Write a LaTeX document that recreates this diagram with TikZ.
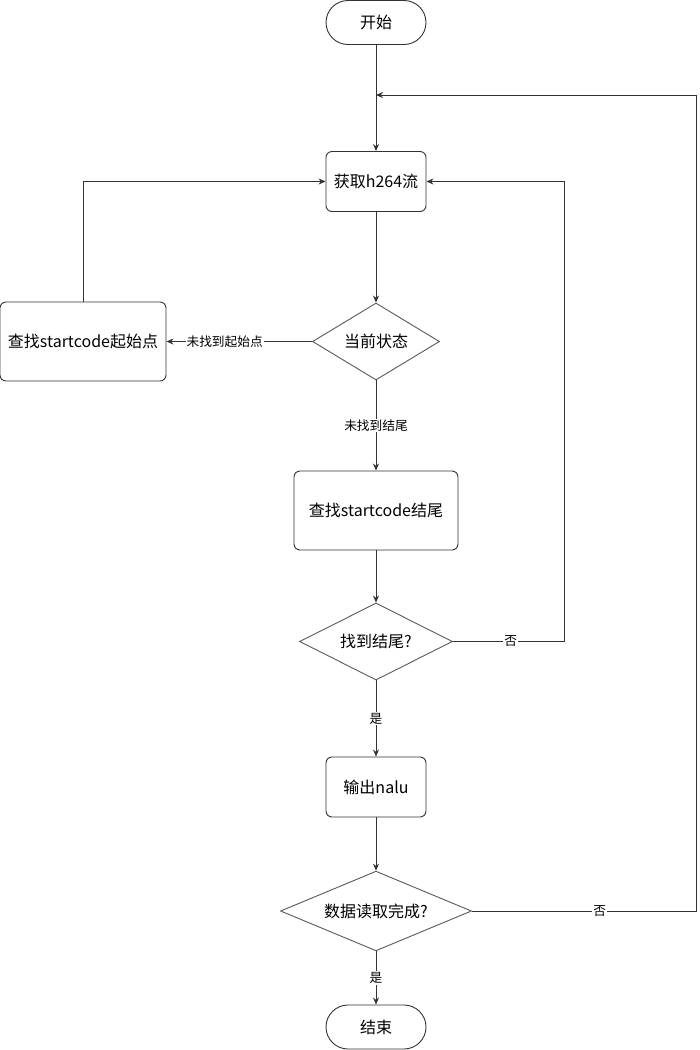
\documentclass[tikz,border=0pt]{standalone}
\usepackage{fontspec}
\setmainfont{Noto Sans CJK SC}
\usetikzlibrary{shapes.geometric,arrows.meta}

\begin{document}
\begin{tikzpicture}[x=1pt,y=-1pt,
  line/.style={draw=black!80,line width=0.9pt},
  arr/.style={line,-{Stealth[length=7pt,width=6pt]}},
  term/.style={line,rounded corners=22pt,minimum width=100pt,minimum height=44pt,font=\fontsize{16}{19}\selectfont},
  proc/.style={line,rounded corners=6pt,minimum width=100pt,minimum height=60pt,font=\fontsize{16}{19}\selectfont},
  cond/.style={draw=black!65,line width=0.9pt,diamond,aspect=1.6,inner sep=0pt,font=\fontsize{16}{19}\selectfont},
  lbl/.style={fill=white,inner sep=1pt,font=\fontsize{12.7}{14}\selectfont}]
  \useasboundingbox (0,0) rectangle (700,1050);

  \node[term] (start) at (376,22.5) {开始};
  \node[proc] (get) at (376,181.5) {获取h264流};
  \node[proc,minimum width=166pt,minimum height=79pt] (seekstart) at (83,341.5) {查找startcode起始点};
  \node[cond,minimum width=127pt,minimum height=77pt] (state) at (376,341.5) {当前状态};
  \node[proc,minimum width=164pt,minimum height=79pt] (seekend) at (376,510.5) {查找startcode结尾};
  \node[cond,minimum width=153pt,minimum height=77pt] (found) at (376,641.5) {找到结尾?};
  \node[proc] (out) at (376,787) {输出nalu};
  \node[cond,minimum width=191pt,minimum height=78pt] (done) at (376,911) {数据读取完成?};
  \node[term] (stop) at (376,1027) {结束};
  \coordinate (merge) at (376,95);

  \draw[arr] (start) -- (get);
  \draw[arr] (get) -- (state);
  \draw[arr] (state) -- node[lbl,pos=0.6] {未找到起始点} (seekstart);
  \draw[arr] (seekstart.north) |- (get.west);
  \draw[arr] (state) -- node[lbl] {未找到结尾} (seekend);
  \draw[arr] (seekend) -- (found);
  \draw[arr] (found.east) -- node[lbl,pos=0.52] {否} ++(111,0) |- (get.east);
  \draw[arr] (found) -- node[lbl] {是} (out);
  \draw[arr] (out) -- (done);
  \draw[arr] (done.east) -- node[lbl,pos=0.57] {否} ++(224,0) |- (merge);
  \draw[arr] (done) -- node[lbl] {是} (stop);
\end{tikzpicture}
\end{document}
